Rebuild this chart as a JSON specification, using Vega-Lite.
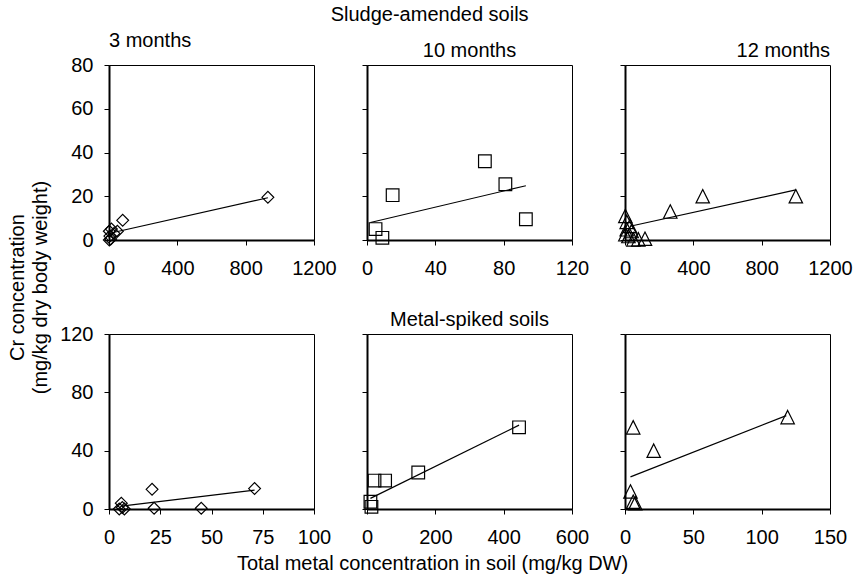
{
  "$schema": "https://vega.github.io/schema/vega-lite/v6.json",
  "background": "white",
  "padding": {"left": 6, "top": 4, "right": 5, "bottom": 5},
  "title": {"text": "Sludge-amended soils", "anchor": "middle", "offset": 6},
  "datasets": {
    "points": [
      {"panel": "S3", "x": 930, "y": 19.5},
      {"panel": "S3", "x": 80, "y": 9},
      {"panel": "S3", "x": 2, "y": 4},
      {"panel": "S3", "x": 14, "y": 5},
      {"panel": "S3", "x": 29, "y": 3},
      {"panel": "S3", "x": 49, "y": 4},
      {"panel": "S3", "x": 10, "y": 0.5},
      {"panel": "S3", "x": 5, "y": 1.8},
      {"panel": "S3", "x": 2, "y": 0},
      {"panel": "S10", "x": 69, "y": 36},
      {"panel": "S10", "x": 81, "y": 25.5},
      {"panel": "S10", "x": 93, "y": 9.5},
      {"panel": "S10", "x": 15, "y": 20.5},
      {"panel": "S10", "x": 5, "y": 5},
      {"panel": "S10", "x": 9, "y": 1},
      {"panel": "S12", "x": 1000, "y": 20},
      {"panel": "S12", "x": 455, "y": 20},
      {"panel": "S12", "x": 265, "y": 13},
      {"panel": "S12", "x": 2, "y": 11},
      {"panel": "S12", "x": 10, "y": 8.3},
      {"panel": "S12", "x": 29, "y": 6.4},
      {"panel": "S12", "x": 10, "y": 4.9},
      {"panel": "S12", "x": 39, "y": 4.1},
      {"panel": "S12", "x": 20, "y": 1.8},
      {"panel": "S12", "x": 49, "y": 0.3},
      {"panel": "S12", "x": 78, "y": 0.3},
      {"panel": "S12", "x": 117, "y": 0.6},
      {"panel": "S12", "x": 2, "y": 2.6},
      {"panel": "M3", "x": 71, "y": 14},
      {"panel": "M3", "x": 21, "y": 13.5},
      {"panel": "M3", "x": 22, "y": 0.5},
      {"panel": "M3", "x": 45, "y": 0.5},
      {"panel": "M3", "x": 6, "y": 4},
      {"panel": "M3", "x": 6.5, "y": 1},
      {"panel": "M3", "x": 5, "y": 0},
      {"panel": "M3", "x": 7.5, "y": 0},
      {"panel": "M10", "x": 445, "y": 56},
      {"panel": "M10", "x": 150, "y": 25},
      {"panel": "M10", "x": 53, "y": 19.5},
      {"panel": "M10", "x": 22, "y": 19.5},
      {"panel": "M10", "x": 10, "y": 5},
      {"panel": "M10", "x": 13, "y": 1.5},
      {"panel": "M12", "x": 119, "y": 63},
      {"panel": "M12", "x": 6, "y": 56},
      {"panel": "M12", "x": 21, "y": 40},
      {"panel": "M12", "x": 4, "y": 12},
      {"panel": "M12", "x": 6, "y": 5},
      {"panel": "M12", "x": 7.5, "y": 4}
    ],
    "fits": [
      {"panel": "S3", "x": 5, "y": 3.1},
      {"panel": "S3", "x": 930, "y": 19.3},
      {"panel": "S10", "x": 2, "y": 8},
      {"panel": "S10", "x": 93, "y": 24.8},
      {"panel": "S12", "x": 30, "y": 6.3},
      {"panel": "S12", "x": 1000, "y": 22.9},
      {"panel": "M3", "x": 6, "y": 2},
      {"panel": "M3", "x": 71, "y": 13},
      {"panel": "M10", "x": 10, "y": 7.3},
      {"panel": "M10", "x": 445, "y": 57.5},
      {"panel": "M12", "x": 4, "y": 22},
      {"panel": "M12", "x": 118, "y": 64}
    ]
  },
  "columns": 3,
  "bounds": "flush",
  "spacing": {"row": 94, "column": 53},
  "concat": [
    {
      "width": 205, "height": 175,
      "title": {"text": "3 months", "anchor": "start", "frame": "group"},
      "layer": [
        {
          "data": {"name": "points"},
          "transform": [{"filter": "datum.panel === 'S3'"}],
          "mark": {"type": "point", "shape": "diamond", "size": 140, "filled": false, "stroke": "#000", "strokeWidth": 1.2, "opacity": 1},
          "encoding": {
            "x": {"field": "x", "type": "quantitative", "scale": {"domain": [0, 1200], "nice": false}, "axis": {"values": [0, 400, 800, 1200], "title": null}},
            "y": {"field": "y", "type": "quantitative", "scale": {"domain": [0, 80], "nice": false}, "axis": {"values": [0, 20, 40, 60, 80], "title": ["Cr concentration", "(mg/kg dry body weight)"], "titleY": 222, "titleX": -82, "titleLineHeight": 23}}
          }
        },
        {
          "data": {"name": "fits"},
          "transform": [{"filter": "datum.panel === 'S3'"}],
          "mark": {"type": "line", "color": "#000", "strokeWidth": 1.2},
          "encoding": {"x": {"field": "x", "type": "quantitative"}, "y": {"field": "y", "type": "quantitative"}}
        }
      ]
    },
    {
      "width": 205, "height": 175,
      "title": {"text": "10 months", "anchor": "middle", "frame": "group"},
      "layer": [
        {
          "data": {"name": "points"},
          "transform": [{"filter": "datum.panel === 'S10'"}],
          "mark": {"type": "point", "shape": "square", "size": 160, "filled": false, "stroke": "#000", "strokeWidth": 1.2, "opacity": 1},
          "encoding": {
            "x": {"field": "x", "type": "quantitative", "scale": {"domain": [0, 120], "nice": false}, "axis": {"values": [0, 40, 80, 120], "title": null}},
            "y": {"field": "y", "type": "quantitative", "scale": {"domain": [0, 80], "nice": false}, "axis": {"values": [0, 20, 40, 60, 80], "labels": false, "title": null}}
          }
        },
        {
          "data": {"name": "fits"},
          "transform": [{"filter": "datum.panel === 'S10'"}],
          "mark": {"type": "line", "color": "#000", "strokeWidth": 1.2},
          "encoding": {"x": {"field": "x", "type": "quantitative"}, "y": {"field": "y", "type": "quantitative"}}
        }
      ]
    },
    {
      "width": 205, "height": 175,
      "title": {"text": "12 months", "anchor": "end", "frame": "group"},
      "layer": [
        {
          "data": {"name": "points"},
          "transform": [{"filter": "datum.panel === 'S12'"}],
          "mark": {"type": "point", "shape": "M0,-1L1,1L-1,1Z", "size": 180, "filled": false, "stroke": "#000", "strokeWidth": 1.2, "opacity": 1},
          "encoding": {
            "x": {"field": "x", "type": "quantitative", "scale": {"domain": [0, 1200], "nice": false}, "axis": {"values": [0, 400, 800, 1200], "title": null}},
            "y": {"field": "y", "type": "quantitative", "scale": {"domain": [0, 80], "nice": false}, "axis": {"values": [0, 20, 40, 60, 80], "labels": false, "title": null}}
          }
        },
        {
          "data": {"name": "fits"},
          "transform": [{"filter": "datum.panel === 'S12'"}],
          "mark": {"type": "line", "color": "#000", "strokeWidth": 1.2},
          "encoding": {"x": {"field": "x", "type": "quantitative"}, "y": {"field": "y", "type": "quantitative"}}
        }
      ]
    },
    {
      "width": 205, "height": 175,
      "layer": [
        {
          "data": {"name": "points"},
          "transform": [{"filter": "datum.panel === 'M3'"}],
          "mark": {"type": "point", "shape": "diamond", "size": 140, "filled": false, "stroke": "#000", "strokeWidth": 1.2, "opacity": 1},
          "encoding": {
            "x": {"field": "x", "type": "quantitative", "scale": {"domain": [0, 100], "nice": false}, "axis": {"values": [0, 25, 50, 75, 100], "title": null}},
            "y": {"field": "y", "type": "quantitative", "scale": {"domain": [0, 120], "nice": false}, "axis": {"values": [0, 40, 80, 120], "title": null}}
          }
        },
        {
          "data": {"name": "fits"},
          "transform": [{"filter": "datum.panel === 'M3'"}],
          "mark": {"type": "line", "color": "#000", "strokeWidth": 1.2},
          "encoding": {"x": {"field": "x", "type": "quantitative"}, "y": {"field": "y", "type": "quantitative"}}
        }
      ]
    },
    {
      "width": 205, "height": 175,
      "title": {"text": "Metal-spiked soils", "anchor": "middle", "frame": "group"},
      "layer": [
        {
          "data": {"name": "points"},
          "transform": [{"filter": "datum.panel === 'M10'"}],
          "mark": {"type": "point", "shape": "square", "size": 160, "filled": false, "stroke": "#000", "strokeWidth": 1.2, "opacity": 1},
          "encoding": {
            "x": {"field": "x", "type": "quantitative", "scale": {"domain": [0, 600], "nice": false}, "axis": {"values": [0, 200, 400, 600], "title": "Total metal concentration in soil (mg/kg DW)", "titleX": 65, "titlePadding": 6}},
            "y": {"field": "y", "type": "quantitative", "scale": {"domain": [0, 120], "nice": false}, "axis": {"values": [0, 40, 80, 120], "labels": false, "title": null}}
          }
        },
        {
          "data": {"name": "fits"},
          "transform": [{"filter": "datum.panel === 'M10'"}],
          "mark": {"type": "line", "color": "#000", "strokeWidth": 1.2},
          "encoding": {"x": {"field": "x", "type": "quantitative"}, "y": {"field": "y", "type": "quantitative"}}
        }
      ]
    },
    {
      "width": 205, "height": 175,
      "layer": [
        {
          "data": {"name": "points"},
          "transform": [{"filter": "datum.panel === 'M12'"}],
          "mark": {"type": "point", "shape": "M0,-1L1,1L-1,1Z", "size": 180, "filled": false, "stroke": "#000", "strokeWidth": 1.2, "opacity": 1},
          "encoding": {
            "x": {"field": "x", "type": "quantitative", "scale": {"domain": [0, 150], "nice": false}, "axis": {"values": [0, 50, 100, 150], "title": null}},
            "y": {"field": "y", "type": "quantitative", "scale": {"domain": [0, 120], "nice": false}, "axis": {"values": [0, 40, 80, 120], "labels": false, "title": null}}
          }
        },
        {
          "data": {"name": "fits"},
          "transform": [{"filter": "datum.panel === 'M12'"}],
          "mark": {"type": "line", "color": "#000", "strokeWidth": 1.2},
          "encoding": {"x": {"field": "x", "type": "quantitative"}, "y": {"field": "y", "type": "quantitative"}}
        }
      ]
    }
  ],
  "config": {
    "font": "Liberation Sans",
    "view": {"stroke": "#000", "strokeWidth": 1},
    "axis": {
      "grid": false,
      "domainColor": "#000",
      "domainWidth": 2,
      "tickColor": "#000",
      "tickSize": 5,
      "tickWidth": 1,
      "labelColor": "#000",
      "labelFont": "Liberation Sans",
      "labelFontSize": 20,
      "labelFlush": false,
      "format": "d",
      "titleColor": "#000",
      "titleFont": "Liberation Sans",
      "titleFontSize": 20,
      "titleFontWeight": "normal"
    },
    "axisX": {"labelPadding": 13},
    "axisY": {"labelPadding": 11},
    "title": {"font": "Liberation Sans", "fontSize": 20, "fontWeight": "normal", "color": "#000", "offset": 4}
  }
}
